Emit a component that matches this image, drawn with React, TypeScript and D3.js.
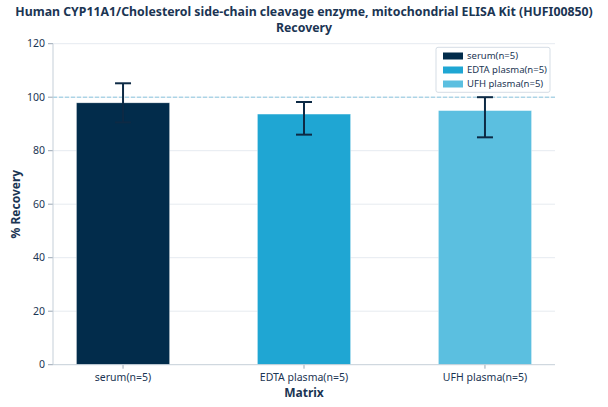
import React from "react";
import * as d3 from "d3";

const categories = ["serum(n=5)", "EDTA plasma(n=5)", "UFH plasma(n=5)"];
const values = [97.9, 93.7, 95.0];
const errUpper = [105.2, 98.2, 100.0];
const errLower = [90.6, 86.0, 85.0];
const colors = ["#022c4b", "#1fa6d3", "#5bbfe0"];
const yTicks = [0, 20, 40, 60, 80, 100, 120];
const titleLines = [
  "Human CYP11A1/Cholesterol side-chain cleavage enzyme, mitochondrial ELISA Kit (HUFI00850)",
  "Recovery",
];

const W = 608;
const H = 407;
const left = 53;
const right = 555;
const top = 43.7;
const bottom = 364.7;
const textColor = "#1b3553";
const font = "'Noto Sans', 'Open Sans', sans-serif";

export default function App() {
  const x = d3.scaleLinear().domain([-0.387, 2.387]).range([left, right]);
  const y = d3.scaleLinear().domain([0, 120]).range([bottom, top]);
  const bw = x(0.515) - x(0);
  const cap = 8;
  return (
    <svg
      width={W}
      height={H}
      style={{ position: "absolute", left: 0, top: 0, fontFamily: font }}
    >
      <rect width={W} height={H} fill="#fff" />
      {titleLines.map((t, i) => (
        <text
          key={i}
          x={W / 2}
          y={16 + i * 16}
          textAnchor="middle"
          fontSize={12.3}
          fontWeight="bold"
          fill={textColor}
        >
          {t}
        </text>
      ))}
      {yTicks.map((t) => (
        <g key={t}>
          {t > 0 && (
            <line
              x1={left}
              x2={right}
              y1={y(t)}
              y2={y(t)}
              stroke="#e6ebf0"
              strokeWidth={1}
            />
          )}
          <line x1={left - 5} x2={left} y1={y(t)} y2={y(t)} stroke="#9aa7b4" />
          <text
            x={left - 8}
            y={y(t)}
            dy="0.35em"
            textAnchor="end"
            fontSize={10.5}
            fill={textColor}
          >
            {t}
          </text>
        </g>
      ))}
      <line
        x1={left}
        x2={right}
        y1={y(100)}
        y2={y(100)}
        stroke="#8fc7e0"
        strokeDasharray="4,2"
        strokeWidth={1}
      />
      {categories.map((c, i) => (
        <g key={c}>
          <rect
            x={x(i) - bw / 2}
            y={y(values[i])}
            width={bw}
            height={y(0) - y(values[i])}
            fill={colors[i]}
            stroke="#ffffff"
            strokeOpacity={0.6}
            strokeWidth={0.6}
          />
          <line
            x1={x(i)}
            x2={x(i)}
            y1={y(errUpper[i])}
            y2={y(errLower[i])}
            stroke="#0d2a45"
            strokeWidth={2}
          />
          <line
            x1={x(i) - cap}
            x2={x(i) + cap}
            y1={y(errUpper[i])}
            y2={y(errUpper[i])}
            stroke="#0d2a45"
            strokeWidth={2}
          />
          <line
            x1={x(i) - cap}
            x2={x(i) + cap}
            y1={y(errLower[i])}
            y2={y(errLower[i])}
            stroke="#0d2a45"
            strokeWidth={2}
          />
          <line
            x1={x(i)}
            x2={x(i)}
            y1={bottom}
            y2={bottom + 4}
            stroke="#9aa7b4"
          />
          <text
            x={x(i)}
            y={bottom + 16}
            textAnchor="middle"
            fontSize={10.5}
            fill={textColor}
          >
            {c}
          </text>
        </g>
      ))}
      <line x1={left} x2={left} y1={top} y2={bottom} stroke="#c5cfd8" />
      <line x1={left} x2={right} y1={bottom} y2={bottom} stroke="#c5cfd8" />
      <text
        x={(left + right) / 2}
        y={397}
        textAnchor="middle"
        fontSize={12}
        fontWeight="bold"
        fill={textColor}
      >
        Matrix
      </text>
      <text
        transform={`translate(20,${(top + bottom) / 2}) rotate(-90)`}
        textAnchor="middle"
        fontSize={12}
        fontWeight="bold"
        fill={textColor}
      >
        % Recovery
      </text>
      <g>
        <rect
          x={436}
          y={47.3}
          width={114}
          height={45}
          rx={2}
          fill="#fff"
          fillOpacity={0.85}
          stroke="#d5dde5"
        />
        {categories.map((c, i) => (
          <g key={c}>
            <rect
              x={443}
              y={52.5 + i * 14}
              width={20}
              height={7}
              fill={colors[i]}
            />
            <text
              x={467}
              y={56 + i * 14}
              dy="0.35em"
              fontSize={9.5}
              fill={textColor}
            >
              {c}
            </text>
          </g>
        ))}
      </g>
    </svg>
  );
}
